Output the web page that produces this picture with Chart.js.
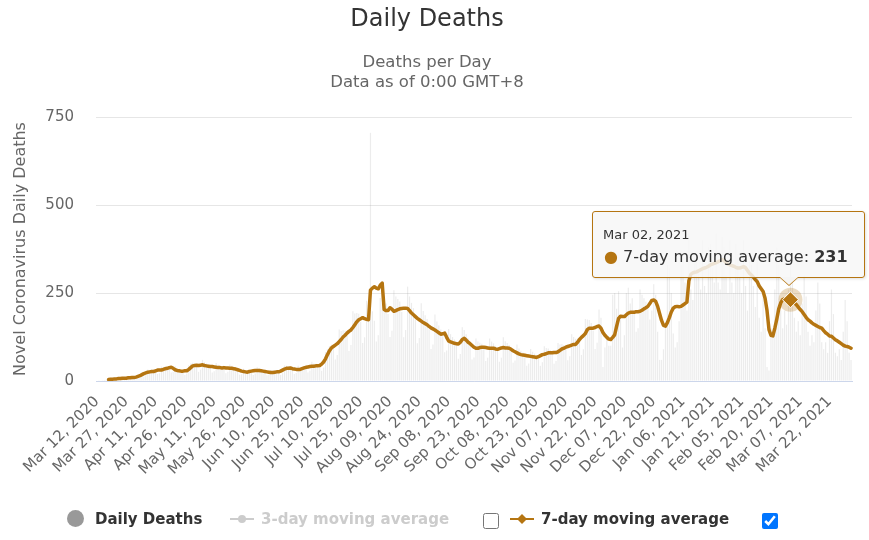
<!DOCTYPE html>
<html>
<head>
<meta charset="utf-8">
<title>Daily Deaths</title>
<script src="https://cdn.jsdelivr.net/npm/chart.js@4.4.1/dist/chart.umd.min.js"></script>
<style>
  body { margin: 0; background: #fff; font-family: "DejaVu Sans", sans-serif; }
  #box { position: relative; width: 869px; height: 540px; overflow: hidden; }
  #deaths { position: absolute; left: 0; top: 0; }
  .head { position: absolute; left: 0; width: 854px; text-align: center; white-space: nowrap; }
  #title { top: 3px; font-size: 24px; line-height: 30px; color: #333; }
  #sub { top: 52px; font-size: 16.5px; line-height: 20px; color: #666; }
  .lg { position: absolute; top: 509px; height: 20px; line-height: 20px; font-size: 15px; font-weight: bold; color: #333; white-space: nowrap; }
  .lg.off { color: #ccc; }
  .dot { position: absolute; left: 67px; top: 510px; width: 17px; height: 17px; border-radius: 50%; background: #999; }
  .sym { position: absolute; top: 511px; }
  .cb { position: absolute; top: 513px; width: 16px; height: 16px; margin: 0; }
  #tip { position: absolute; width: 271px; height: 65px; border: 1px solid #b57511; border-radius: 3px;
         background: rgba(247,247,247,0.85); box-shadow: 1px 1px 3px rgba(0,0,0,0.12); color: #333; }
  #tip .date { position: absolute; left: 10px; top: 15px; font-size: 13px; line-height: 16px; white-space: nowrap; }
  #tip .row { position: absolute; left: 11px; top: 35px; font-size: 16px; line-height: 20px; white-space: nowrap; }
  #tip .row .bul { color: #b57511; }
  #tip::before { content: ''; position: absolute; left: var(--cx); bottom: -9px; margin-left: -10px;
                 border-left: 10px solid transparent; border-right: 10px solid transparent; border-top: 9px solid #b57511; }
  #tip::after { content: ''; position: absolute; left: var(--cx); bottom: -8px; margin-left: -9px;
                border-left: 9px solid transparent; border-right: 9px solid transparent; border-top: 8px solid #f5f5f5; }
</style>
</head>
<body>
<div id="box">
  <canvas id="deaths" width="869" height="540"></canvas>
  <div id="title" class="head">Daily Deaths</div>
  <div id="sub" class="head">Deaths per Day<br>Data as of 0:00 GMT+8</div>

  <span class="dot"></span>
  <div class="lg" style="left:95px">Daily Deaths</div>
  <svg class="sym" style="left:229px" width="26" height="16"><line x1="1" y1="8" x2="25" y2="8" stroke="#ccc" stroke-width="2"/><circle cx="13" cy="8" r="4" fill="#ccc"/></svg>
  <div class="lg off" style="left:261px">3-day moving average</div>
  <input class="cb" type="checkbox" style="left:483px">
  <svg class="sym" style="left:509px" width="26" height="16"><line x1="1" y1="8" x2="25" y2="8" stroke="#b57511" stroke-width="2"/><path d="M13 3 L18 8 L13 13 L8 8 Z" fill="#b57511"/></svg>
  <div class="lg" style="left:541px">7-day moving average</div>
  <input class="cb" type="checkbox" checked style="left:762px">

  <div id="tip"><div class="date"></div><div class="row"><span class="bul">●</span> 7-day moving average: <b></b></div></div>
</div>
<script>
const startDay = [2020, 2, 12];
const tickLabels = [
  "Mar 12, 2020", "Mar 27, 2020", "Apr 11, 2020", "Apr 26, 2020", "May 11, 2020", "May 26, 2020",
  "Jun 10, 2020", "Jun 25, 2020", "Jul 10, 2020", "Jul 25, 2020", "Aug 09, 2020", "Aug 24, 2020",
  "Sep 08, 2020", "Sep 23, 2020", "Oct 08, 2020", "Oct 23, 2020", "Nov 07, 2020", "Nov 22, 2020",
  "Dec 07, 2020", "Dec 22, 2020", "Jan 06, 2021", "Jan 21, 2021", "Feb 05, 2021", "Feb 20, 2021",
  "Mar 07, 2021", "Mar 22, 2021"
];

const dailyDeaths = [
  0, 1, 0, 2, 3, 5, 6, 6, 5, 6,
  3, 5, 9, 10, 9, 9, 8, 6, 7, 13,
  14, 16, 17, 18, 13, 17, 33, 31, 32, 29,
  27, 20, 22, 41, 40, 42, 39, 35, 24, 26,
  42, 36, 34, 31, 27, 17, 21, 45, 50, 52,
  49, 42, 26, 32, 60, 53, 50, 46, 39, 24,
  28, 51, 46, 44, 41, 36, 22, 26, 47, 43,
  40, 37, 30, 18, 19, 35, 31, 29, 30, 27,
  17, 21, 39, 36, 33, 31, 26, 16, 18, 31,
  29, 29, 29, 25, 17, 22, 44, 43, 41, 41,
  33, 20, 23, 43, 40, 40, 41, 37, 24, 29,
  55, 50, 49, 47, 42, 29, 38, 82, 90, 99,
  103, 93, 61, 74, 146, 142, 144, 143, 129, 85,
  102, 198, 192, 193, 191, 168, 108, 124, 228, 209,
  705, 198, 171, 112, 130, 236, 221, 205, 220, 190,
  125, 143, 258, 240, 233, 226, 196, 124, 145, 268,
  240, 222, 207, 174, 107, 122, 221, 199, 187, 176,
  147, 91, 104, 189, 169, 158, 146, 127, 82, 87,
  148, 133, 125, 118, 101, 63, 77, 153, 145, 133,
  121, 101, 61, 67, 121, 112, 109, 106, 91, 57,
  66, 121, 112, 107, 100, 86, 55, 66, 124, 113,
  108, 102, 86, 52, 58, 104, 92, 86, 81, 69,
  43, 50, 91, 83, 78, 74, 66, 43, 53, 99,
  94, 92, 88, 76, 49, 57, 108, 104, 105, 102,
  91, 59, 70, 133, 125, 120, 121, 112, 74, 90,
  176, 175, 173, 165, 143, 91, 109, 203, 180, 40,
  95, 130, 100, 100, 245, 250, 205, 255, 175, 95,
  130, 250, 265, 220, 235, 190, 140, 150, 260, 245,
  235, 225, 205, 175, 200, 275, 245, 140, 60, 60,
  90, 160, 330, 320, 250, 135, 95, 110, 170, 330,
  340, 280, 200, 420, 260, 230, 360, 360, 310, 260,
  400, 270, 250, 380, 390, 320, 280, 420, 280, 260,
  410, 380, 300, 250, 400, 280, 250, 390, 360, 300,
  250, 400, 270, 200, 340, 330, 270, 210, 350, 180,
  140, 240, 150, 40, 30, 150, 135, 260, 380, 330,
  200, 150, 200, 160, 260, 330, 290, 180, 140, 170,
  130, 220, 300, 240, 140, 100, 130, 110, 200, 280,
  220, 110, 90, 110, 80, 170, 260, 190, 80, 70,
  90, 60, 140, 230, 170, 80, 60
];

const avg7 = [
  null, null, null, null, null, null, 4, 5, 5, 6,
  6, 7, 7, 8, 8, 8, 9, 9, 10, 10,
  11, 13, 15, 18, 21, 23, 25, 26, 27, 27,
  29, 31, 31, 31, 33, 35, 36, 38, 39, 36,
  32, 30, 29, 28, 28, 29, 29, 33, 38, 43,
  44, 45, 44, 45, 46, 44, 43, 42, 41, 41,
  40, 39, 38, 38, 37, 38, 37, 37, 36, 36,
  35, 34, 32, 30, 28, 27, 26, 25, 27, 28,
  29, 30, 30, 30, 29, 28, 27, 26, 25, 24,
  24, 25, 26, 26, 28, 31, 34, 36, 36, 37,
  35, 34, 33, 33, 33, 35, 37, 39, 40, 41,
  42, 42, 43, 43, 44, 48, 54, 63, 75, 86,
  94, 98, 102, 106, 112, 118, 125, 130, 136, 141,
  145, 152, 160, 168, 174, 177, 180, 177, 175, 174,
  258, 264, 268, 264, 262, 272, 278, 203, 200, 200,
  208, 204, 198, 200, 203, 205, 206, 207, 207, 206,
  200, 193, 188, 183, 178, 174, 170, 166, 163, 160,
  155, 151, 148, 145, 141, 137, 133, 134, 136, 124,
  114, 111, 109, 107, 106, 105, 110, 118, 121, 116,
  110, 106, 101, 96, 93, 93, 95, 96, 96, 95,
  94, 93, 93, 93, 91, 90, 92, 94, 95, 94,
  94, 93, 90, 86, 83, 80, 77, 75, 74, 73,
  72, 71, 70, 69, 68, 67, 69, 72, 75, 76,
  78, 80, 80, 80, 81, 81, 83, 87, 91, 93,
  96, 98, 100, 102, 104, 104, 110, 118, 124, 129,
  135, 146, 150, 150, 150, 152, 155, 156, 150, 138,
  130, 124, 119, 118, 124, 131, 155, 178, 184, 183,
  183, 188, 193, 195, 195, 195, 197, 197, 198, 201,
  205, 208, 212, 220, 229, 230, 226, 212, 192, 172,
  158, 156, 166, 180, 196, 207, 211, 212, 211, 212,
  216, 220, 224, 285, 303, 307, 309, 310, 313, 316,
  319, 321, 323, 326, 330, 332, 334, 336, 339, 341,
  345, 342, 337, 332, 330, 328, 326, 323, 321, 321,
  323, 325, 322, 314, 306, 301, 295, 288, 282, 270,
  262, 254, 235, 200, 146, 130, 128, 150, 176, 205,
  222, 231, 233, 232, 232, 231, 226, 222, 217, 210,
  203, 197, 189, 181, 174, 170, 165, 161, 158, 155,
  152, 150, 143, 137, 133, 128, 127, 122, 117, 114,
  110, 106, 102, 99, 98, 96, 93
];

const hoverIndex = 355;
const lineColor = "#b57511";
const months = ["Jan", "Feb", "Mar", "Apr", "May", "Jun", "Jul", "Aug", "Sep", "Oct", "Nov", "Dec"];

function fmtDay(d) {
  return `${months[d.getUTCMonth()]} ${String(d.getUTCDate()).padStart(2, "0")}, ${d.getUTCFullYear()}`;
}

const categories = dailyDeaths.map((_, i) =>
  fmtDay(new Date(Date.UTC(startDay[0], startDay[1], startDay[2] + i)))
);

// hovered point: halo + diamond marker, like the reference's hover state
const hoverMark = {
  id: "hoverMark",
  afterDatasetsDraw(chart) {
    const pt = chart.getDatasetMeta(1).data[hoverIndex];
    const ctx = chart.ctx;
    ctx.save();
    ctx.fillStyle = "rgba(181,117,17,0.25)";
    ctx.beginPath();
    ctx.arc(pt.x, pt.y, 12, 0, Math.PI * 2);
    ctx.fill();
    ctx.beginPath();
    ctx.moveTo(pt.x, pt.y - 8);
    ctx.lineTo(pt.x + 8, pt.y);
    ctx.lineTo(pt.x, pt.y + 8);
    ctx.lineTo(pt.x - 8, pt.y);
    ctx.closePath();
    ctx.fillStyle = lineColor;
    ctx.fill();
    ctx.strokeStyle = "#fff";
    ctx.lineWidth = 1;
    ctx.stroke();
    ctx.restore();
  },
};

const chart = new Chart(document.getElementById("deaths"), {
  type: "bar",
  data: {
    labels: categories,
    datasets: [
      {
        type: "bar",
        label: "Daily Deaths",
        data: dailyDeaths,
        backgroundColor: "rgba(153,153,153,0.19)",
        barPercentage: 0.6,
        categoryPercentage: 1,
        order: 2,
      },
      {
        type: "line",
        label: "7-day moving average",
        data: avg7,
        borderColor: lineColor,
        borderWidth: 3.5,
        borderJoinStyle: "round",
        borderCapStyle: "round",
        pointRadius: 0,
        tension: 0,
        order: 1,
      },
    ],
  },
  options: {
    responsive: false,
    animation: false,
    devicePixelRatio: 1,
    layout: { padding: { top: 117, right: 17, bottom: 60, left: 0 } },
    plugins: { legend: { display: false }, tooltip: { enabled: false } },
    scales: {
      x: {
        offset: true,
        grid: { display: false, drawTicks: false },
        border: { display: true, color: "#ccd6eb" },
        ticks: {
          autoSkip: false,
          minRotation: 45,
          maxRotation: 45,
          padding: 12,
          color: "#666",
          font: { family: "DejaVu Sans", size: 15 },
          callback: (v, i) => (i % 15 === 0 ? tickLabels[i / 15] : ""),
        },
        afterFit: (scale) => {
          scale.height = 99;
          scale.paddingLeft = 0;
          scale.paddingRight = 0;
        },
      },
      y: {
        min: 0,
        max: 750,
        ticks: {
          stepSize: 250,
          padding: 22,
          color: "#666",
          font: { family: "DejaVu Sans", size: 15 },
        },
        grid: { color: "#e6e6e6", drawTicks: false },
        border: { display: false },
        title: {
          display: true,
          text: "Novel Coronavirus Daily Deaths",
          color: "#666",
          font: { family: "DejaVu Sans", size: 16 },
          padding: { top: 11, bottom: 0 },
        },
        afterFit: (scale) => { scale.width = 96; },
      },
    },
  },
  plugins: [hoverMark],
});

// tooltip for the hovered day, placed at the point the scales give
const pt = chart.getDatasetMeta(1).data[hoverIndex];
const tip = document.getElementById("tip");
tip.querySelector(".date").textContent = categories[hoverIndex];
tip.querySelector("b").textContent = avg7[hoverIndex];
const tipLeft = Math.round(pt.x - 198);
tip.style.left = tipLeft + "px";
tip.style.top = Math.round(pt.y - 89) + "px";
tip.style.setProperty("--cx", (pt.x - 1.5 - tipLeft - 1) + "px");
</script>
</body>
</html>
